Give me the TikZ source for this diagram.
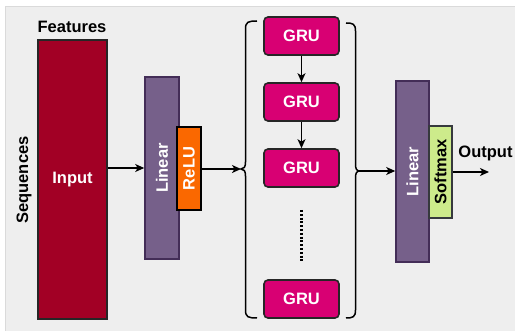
\documentclass[tikz,border=0pt]{standalone}
\usepackage{fontspec}
\setmainfont{Liberation Sans}
\usetikzlibrary{arrows.meta}
\definecolor{bgfill}{HTML}{EEEEEE}
\definecolor{bgline}{HTML}{DADADA}
\definecolor{inred}{HTML}{A20025}
\definecolor{linfill}{HTML}{76608A}
\definecolor{linline}{HTML}{432D57}
\definecolor{relufill}{HTML}{FA6800}
\definecolor{grufill}{HTML}{D80073}
\definecolor{softfill}{HTML}{CDEB8B}
\definecolor{softline}{HTML}{36393D}
\tikzset{
  blk/.style={draw, line width=1.6pt, inner sep=0pt, font=\fontsize{16.5}{18}\selectfont\bfseries},
  inputbox/.style={blk, fill=inred, draw=black!85, text=white},
  linbox/.style={blk, fill=linfill, draw=linline, text=white, rotate=90},
  relubox/.style={blk, fill=relufill, draw=black, text=white, rotate=90},
  softbox/.style={blk, fill=softfill, draw=softline, text=black, rotate=90},
  grubox/.style={blk, fill=grufill, draw=black!85, text=white, rounded corners=4pt,
                 minimum width=75pt, minimum height=38pt},
  lbl/.style={font=\fontsize{16.5}{18}\selectfont\bfseries, inner sep=0pt},
  flow/.style={line width=1.5pt, -{Stealth[length=9pt,width=8pt,inset=2.5pt]}},
  bracket/.style={line width=1.5pt}
}
\begin{document}
\begin{tikzpicture}[x=1pt, y=-1pt]
  \useasboundingbox (0,0) rectangle (515,331);
  % canvas
  \fill[white] (0,0) rectangle (515,331);
  \draw[bgline, fill=bgfill, line width=1pt] (5.5,6.5) rectangle (516,332);

  % input block and its axis labels
  \node[inputbox, minimum width=69pt, minimum height=279pt] (input) at (72.5,179.5) {Input};
  \node[lbl] (feat) at (72,27) {Features};
  \node[lbl, rotate=90] (seq) at (24,180) {Sequences};

  % first linear layer with ReLU
  \node[linbox, minimum width=182pt, minimum height=34pt] (lin1) at (162,168) {Linear};
  \node[relubox, minimum width=83pt, minimum height=24pt] (relu) at (189,168.5) {ReLU};

  % stacked GRU cells
  \node[grubox] (g1) at (301.5,36) {GRU};
  \node[grubox] (g2) at (301.5,102) {GRU};
  \node[grubox] (g3) at (301.5,168) {GRU};
  \node[grubox] (g4) at (301.5,299) {GRU};
  \draw[flow] (g1) -- (g2);
  \draw[flow] (g2) -- (g3);
  \coordinate (dtop) at (301.5,210);
  \coordinate (dbot) at (301.5,263);
  \draw[line width=2.6pt, dash pattern=on 2pt off 1.8pt] (dtop) -- (dbot);

  % braces around the GRU stack
  \coordinate (lb) at (241,169);
  \coordinate (rb) at (358.5,171);
  \draw[bracket] (257,21) .. controls (248,21) and (245.5,22) .. (245.5,29)
     -- (245.5,162) .. controls (245.5,167) and (244,169) .. (lb)
     .. controls (244,169) and (245.5,171) .. (245.5,176)
     -- (245.5,310) .. controls (245.5,317) and (248,318) .. (257,318);
  \draw[bracket] (346,23) .. controls (353,23) and (355.5,24) .. (355.5,31)
     -- (355.5,164) .. controls (355.5,169) and (357,171) .. (rb)
     .. controls (357,171) and (355.5,173) .. (355.5,178)
     -- (355.5,310) .. controls (355.5,317) and (353,318) .. (346,318);

  % output head
  \node[linbox, minimum width=181pt, minimum height=33pt] (lin2) at (412.5,171.5) {Linear};
  \node[softbox, minimum width=92pt, minimum height=23pt] (soft) at (440.5,172) {Softmax};
  \coordinate (out) at (489,172);
  \node[lbl] (outlbl) at (485.5,153) {Output};

  % connections
  \draw[flow] (input.east |- 0,168) -- (lin1.north |- 0,168);
  \draw[flow] (relu.south |- 0,169) -- (lb);
  \draw[flow] (rb) -- (lin2.north |- 0,171);
  \draw[flow] (soft.south |- 0,172) -- (out);
\end{tikzpicture}
\end{document}
